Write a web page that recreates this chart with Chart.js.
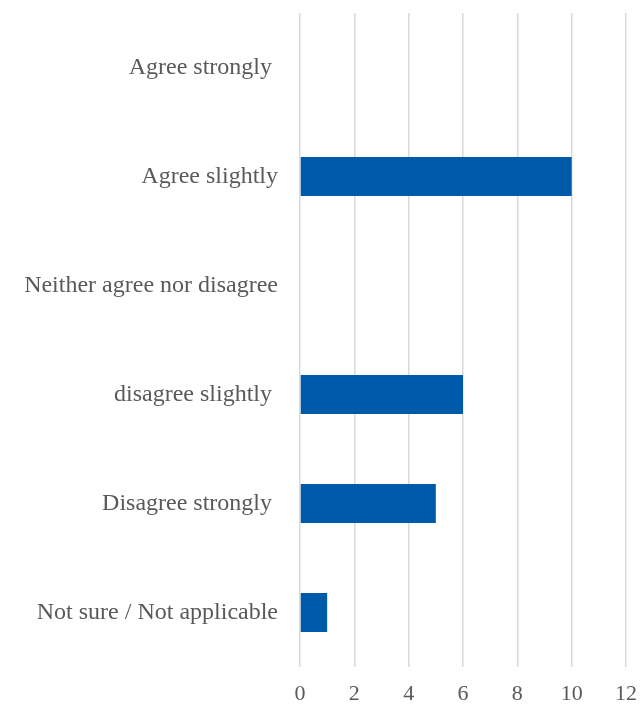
<!DOCTYPE html>
<html>
<head>
<meta charset="utf-8">
<script src="https://cdn.jsdelivr.net/npm/chart.js@4"></script>
<style>
  html, body { margin: 0; padding: 0; background: #fff; }
  #wrap { width: 641px; height: 704px; }
</style>
</head>
<body>
<div id="wrap"><canvas id="surveyChart"></canvas></div>
<script>
// survey responses
var categories = [
    'Agree strongly ',
    'Agree slightly',
    'Neither agree nor disagree',
    'disagree slightly ',
    'Disagree strongly ',
    'Not sure / Not applicable'
];
var counts = [0, 10, 0, 6, 5, 1];
var axisMax = 12;
var axisStep = 2;

var textColor = '#595959';
var gridColor = '#d9d9d9';
var fontFamily = '"Liberation Serif", "Times New Roman", serif';

var ctx = document.getElementById('surveyChart').getContext('2d');
var surveyChart = new Chart(ctx, {
    type: 'bar',
    data: {
        labels: categories,
        datasets: [{
            data: counts,
            backgroundColor: '#005AAA',
            borderWidth: 0,
            categoryPercentage: 1,
            barPercentage: 0.36
        }]
    },
    options: {
        indexAxis: 'y',
        responsive: true,
        maintainAspectRatio: false,
        animation: false,
        layout: {
            autoPadding: false,
            padding: { top: 13, right: 15, left: 0, bottom: 0 }
        },
        plugins: {
            legend: { display: false },
            tooltip: { enabled: false }
        },
        scales: {
            x: {
                min: 0,
                max: axisMax,
                ticks: {
                    stepSize: axisStep,
                    color: textColor,
                    font: { family: fontFamily, size: 22 },
                    padding: 14
                },
                grid: { color: gridColor, lineWidth: 1.5, drawTicks: false },
                border: { display: false },
                afterFit: function (scale) {
                    scale.height = 37;
                    scale.paddingLeft = 0;
                    scale.paddingRight = 0;
                }
            },
            y: {
                ticks: {
                    color: textColor,
                    font: { family: fontFamily, size: 24 },
                    padding: 22
                },
                grid: { display: false, drawTicks: false },
                border: { display: false },
                afterFit: function (scale) {
                    scale.width = 300;
                    scale.paddingTop = 0;
                    scale.paddingBottom = 0;
                }
            }
        }
    }
});
</script>
</body>
</html>
